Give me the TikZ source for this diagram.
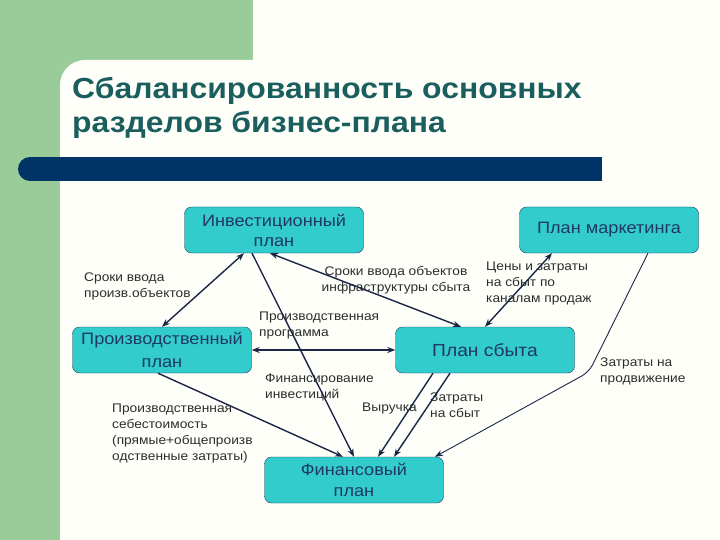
\documentclass[tikz,border=0pt]{standalone}
\usepackage{fontspec}
\setmainfont[FakeStretch=1.1]{Liberation Sans}
\usetikzlibrary{arrows.meta,calc}
\definecolor{pagebg}{RGB}{255,255,250}
\definecolor{greenband}{RGB}{153,204,153}
\definecolor{navybar}{RGB}{0,51,102}
\definecolor{titlecol}{RGB}{26,94,94}
\definecolor{boxfill}{RGB}{51,204,204}
\definecolor{boxline}{RGB}{31,56,88}
\definecolor{boxtext}{RGB}{31,56,100}
\definecolor{arrowcol}{RGB}{25,38,70}
\definecolor{labelcol}{RGB}{45,45,45}
\tikzset{
  plan/.style={
    draw=boxline,
    fill=boxfill,
    rounded corners=7pt,
    minimum width=179pt,
    minimum height=46pt,
    align=center,
    text=boxtext,
    inner sep=2pt
  },
  lbl/.style={
    text=labelcol,
    align=left,
    inner sep=0pt,
    font=\fontsize{12.5}{16}\selectfont
  },
  heading/.style={
    text=titlecol,
    align=left,
    inner sep=0pt,
    font=\bfseries\fontsize{29}{34}\selectfont
  },
  link/.style={
    draw=arrowcol,
    line width=1.4pt,
    -{Stealth[length=8pt,width=6pt]}
  },
  linkb/.style={
    link,
    {Stealth[length=8pt,width=6pt]}-{Stealth[length=8pt,width=6pt]}
  }
}

\begin{document}
\begin{tikzpicture}[x=1pt,y=-1pt]
  \useasboundingbox (0,0) rectangle (720,540);
  % background
  \fill[pagebg] (0,0) rectangle (720,540);
  \fill[greenband] (0,0) rectangle (253,85);
  \fill[greenband] (0,0) rectangle (60,540);
  \fill[pagebg, rounded corners=25pt] (60,60) rectangle (780,600);
  \fill[navybar] (30,157) rectangle (602,181);
  \fill[navybar] (30,169) circle (12);
  \node[heading, anchor=north west] (title) at (72,77)
    {Сбалансированность основных\\разделов бизнес-плана};

  % plans
  \node[plan, font=\fontsize{16.5}{20}\selectfont] (inv) at (274,230) {Инвестиционный\\план};
  \node[plan, font=\fontsize{16.5}{20}\selectfont] (mark) at (609,230) {План маркетинга};
  \node[plan, font=\fontsize{16.5}{23}\selectfont] (prod) at (162,350) {Производственный\\план};
  \node[plan, font=\fontsize{17.5}{23}\selectfont] (sbyt) at (485,350) {План сбыта};
  \node[plan, font=\fontsize{16.5}{21}\selectfont] (fin) at (354,480) {Финансовый\\план};

  % labels
  \node[lbl, anchor=west] (lsrok) at (84,286) {Сроки ввода\\произв.объектов};
  \node[lbl, align=center] (linfra) at (396,280) {Сроки ввода объектов\\инфраструктуры сбыта};
  \node[lbl, anchor=west] (lceny) at (486,283) {Цены и затраты\\на сбыт по\\каналам продаж};
  \node[lbl, anchor=west] (lprog) at (259,325) {Производственная\\программа};
  \node[lbl, anchor=west] (lfinv) at (265,387) {Финансирование\\инвестиций};
  \node[lbl, anchor=west] (lsebest) at (112,433)
    {Производственная\\себестоимость\\(прямые+общепроизв\\одственные затраты)};
  \node[lbl, anchor=west] (lvyr) at (362,408) {Выручка};
  \node[lbl, anchor=west] (lzsb) at (430,405) {Затраты\\на сбыт};
  \node[lbl, anchor=west] (lprod) at (600,371) {Затраты на\\продвижение};

  % links
  \draw[linkb] ([xshift=-30pt]inv.south) -- (prod.north);
  \draw[linkb] ([xshift=-4pt]inv.south) -- ([xshift=-24pt]sbyt.north);
  \draw[link] ([xshift=-22pt]inv.south) -- (fin.north);
  \draw[linkb] ([xshift=-57pt]mark.south) -- (sbyt.north);
  \draw[linkb] (sbyt.west) -- (prod.east);
  \draw[link] ([xshift=-4pt]prod.south) -- ([xshift=-11pt]fin.north);
  \draw[link] ([xshift=-52pt]sbyt.south) -- ([xshift=24pt]fin.north);
  \draw[link] ([xshift=-35pt]sbyt.south) -- ([xshift=40pt]fin.north);
  \coordinate (bend) at (589,372);
  \draw[link, line width=0.9pt, rounded corners=8pt] ([xshift=39pt]mark.south) -- (bend) -- ([xshift=81pt]fin.north);
\end{tikzpicture}
\end{document}
